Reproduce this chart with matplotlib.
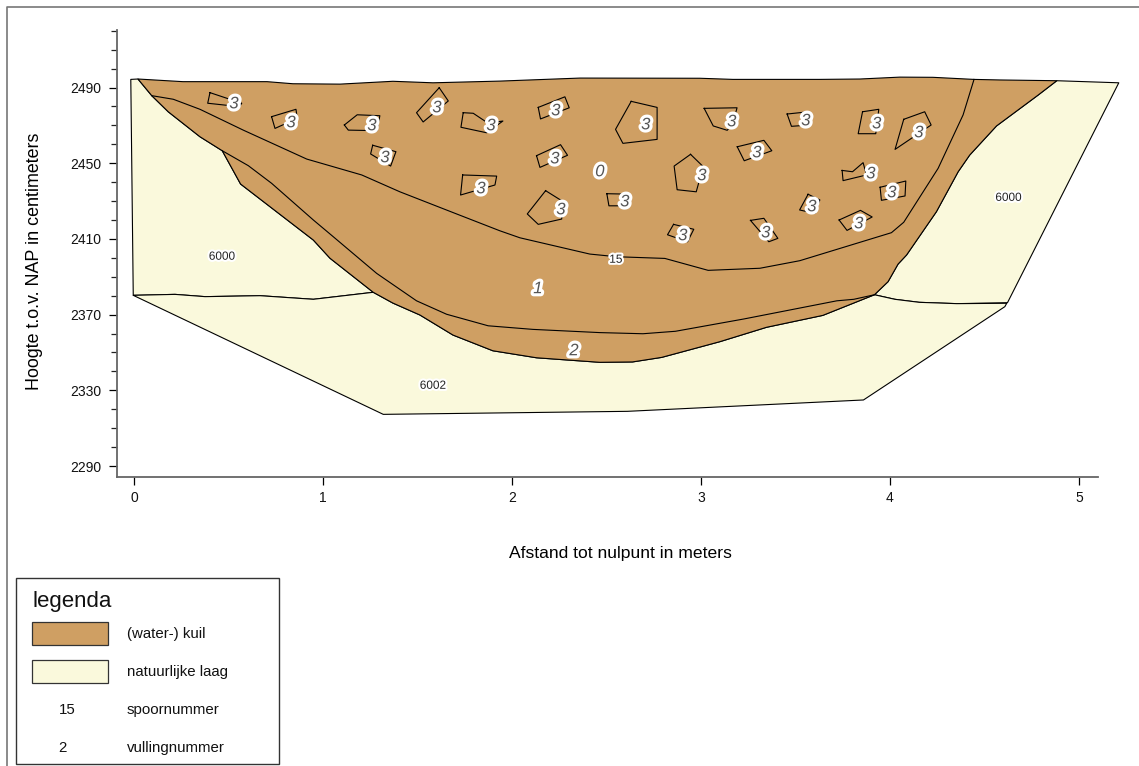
import matplotlib
matplotlib.use('Agg')
import matplotlib.pyplot as plt
import matplotlib.patheffects as pe
from matplotlib.patches import Rectangle

plt.rcParams['font.family'] = ['Liberation Sans', 'DejaVu Sans']

BROWN = '#CF9F63'
CREAM = '#FAF9DC'

# maaiveld, links naar rechts
ground = [(0.021, 2494.5), (0.259, 2493.1), (0.704, 2493.1), (0.841, 2492.0), (1.090, 2491.8),
          (1.370, 2493.3), (1.582, 2492.5), (1.936, 2493.4), (2.360, 2495.0), (2.994, 2494.9),
          (3.169, 2494.3), (3.629, 2494.3), (3.841, 2494.5), (4.052, 2495.5), (4.227, 2495.4),
          (4.444, 2494.3), (4.581, 2494.0), (4.883, 2493.6)]

# kuilwand links tot het punt waar vulling 2 begint
pit_left = [(0.021, 2494.5), (0.094, 2485.7), (0.181, 2477.2), (0.349, 2464.0), (0.467, 2456.6)]

# onderkant kuil
pit_bottom_a = [(0.467, 2456.6), (0.564, 2439.0), (0.949, 2409.4), (1.037, 2399.8), (1.266, 2381.8)]
pit_bottom_b = [(1.266, 2381.8), (1.370, 2376.1), (1.513, 2369.8), (1.688, 2359.2), (1.899, 2350.9),
                (2.130, 2347.2), (2.465, 2344.8), (2.638, 2345.0), (2.792, 2347.4), (3.100, 2355.7),
                (3.347, 2363.3), (3.645, 2369.6), (3.918, 2380.5)]

pit_right = [(3.918, 2380.5), (3.990, 2387.4), (4.043, 2396.7), (4.088, 2401.5), (4.246, 2424.4),
             (4.361, 2445.5), (4.422, 2454.3), (4.564, 2469.7), (4.784, 2486.0), (4.883, 2493.6)]

# grens spoor 15
line_15 = [(0.094, 2485.7), (0.208, 2483.8), (0.349, 2478.5), (0.578, 2467.5), (0.914, 2452.2),
           (1.205, 2443.8), (1.407, 2434.9), (1.707, 2423.2), (1.936, 2414.3), (2.042, 2410.6),
           (2.412, 2402.0), (2.553, 2400.6), (2.809, 2399.7), (3.038, 2393.4), (3.312, 2394.5),
           (3.523, 2398.5), (4.008, 2413.3), (4.073, 2418.8), (4.255, 2447.3), (4.387, 2475.5),
           (4.445, 2494.3)]

# grens vulling 1 / vulling 2
line_fill = [(0.467, 2456.6), (0.605, 2448.7), (0.728, 2439.4), (0.949, 2420.0), (1.054, 2411.2),
             (1.284, 2391.8), (1.495, 2377.3), (1.654, 2370.2), (1.874, 2364.1), (2.111, 2362.2),
             (2.465, 2360.5), (2.693, 2359.9), (2.865, 2361.2), (3.227, 2367.7), (3.719, 2377.3),
             (3.809, 2378.1), (3.918, 2380.5)]

# natuurlijke lagen
layer_left = [(-0.004, 2380.2), (0.217, 2380.7), (0.376, 2379.5), (0.667, 2380.0), (0.949, 2378.1),
              (1.266, 2381.8)]
layer_right = [(3.918, 2380.5), (4.026, 2378.1), (4.155, 2376.5), (4.354, 2375.8), (4.618, 2376.0)]
layer_under = [(4.608, 2374.2), (3.860, 2324.9), (2.611, 2318.9), (1.319, 2317.3)]
left_top = [(-0.017, 2494.3)]
right_outer = [(5.211, 2492.5), (4.622, 2376.3)]

# vulling 3 vlekken
blobs = [
    [(0.402, 2487.3), (0.570, 2481.7), (0.557, 2479.9), (0.390, 2481.7)],
    [(0.728, 2474.6), (0.857, 2478.5), (0.864, 2473.7), (0.746, 2468.4)],
    [(1.113, 2470.2), (1.181, 2475.6), (1.301, 2475.1), (1.285, 2467.2), (1.134, 2467.5)],
    [(1.615, 2489.9), (1.663, 2482.9), (1.530, 2471.8), (1.495, 2476.7)],
    [(1.742, 2476.7), (1.795, 2476.4), (1.873, 2471.2), (1.952, 2472.3), (1.866, 2466.1), (1.730, 2469.0)],
    [(1.263, 2459.5), (1.386, 2456.1), (1.358, 2448.5), (1.252, 2454.9)],
    [(1.739, 2443.8), (1.919, 2443.2), (1.910, 2438.5), (1.728, 2433.2)],
    [(2.139, 2479.5), (2.280, 2485.1), (2.303, 2479.3), (2.151, 2473.4)],
    [(2.631, 2482.7), (2.768, 2479.5), (2.768, 2462.6), (2.587, 2460.5), (2.548, 2467.9)],
    [(3.017, 2479.0), (3.191, 2479.3), (3.169, 2471.1), (3.139, 2467.4), (3.065, 2469.7)],
    [(3.456, 2476.0), (3.569, 2477.2), (3.576, 2470.2), (3.479, 2469.5)],
    [(3.192, 2458.7), (3.333, 2462.1), (3.375, 2456.6), (3.229, 2451.3)],
    [(2.130, 2454.0), (2.257, 2459.8), (2.294, 2454.2), (2.148, 2447.8)],
    [(2.945, 2454.7), (3.012, 2448.2), (2.975, 2434.9), (2.874, 2436.0), (2.858, 2448.5)],
    [(2.502, 2433.9), (2.597, 2433.7), (2.597, 2427.5), (2.513, 2427.5)],
    [(2.178, 2435.5), (2.271, 2429.7), (2.263, 2420.5), (2.139, 2417.7), (2.081, 2423.2)],
    [(2.855, 2417.7), (2.962, 2415.1), (2.929, 2408.5), (2.823, 2412.2)],
    [(3.262, 2419.8), (3.333, 2420.9), (3.407, 2410.3), (3.359, 2408.5)],
    [(3.567, 2433.6), (3.629, 2430.6), (3.603, 2423.5), (3.522, 2425.3)],
    [(3.855, 2477.2), (3.941, 2478.5), (3.925, 2465.6), (3.832, 2465.6)],
    [(4.073, 2473.2), (4.184, 2477.2), (4.218, 2470.2), (4.027, 2457.3)],
    [(3.747, 2446.2), (3.802, 2445.5), (3.858, 2450.3), (3.876, 2443.8), (3.752, 2440.8)],
    [(3.948, 2437.3), (4.084, 2440.6), (4.080, 2432.7), (3.955, 2430.4)],
    [(3.731, 2420.0), (3.844, 2425.1), (3.906, 2421.6), (3.773, 2414.5)],
]

# labels
fill_labels = [(0.529, 2481.4, '3'), (0.831, 2471.4, '3'), (1.259, 2469.8, '3'), (1.603, 2479.3, '3'),
               (1.889, 2469.8, '3'), (1.328, 2452.9, '3'), (1.836, 2436.5, '3'), (2.232, 2477.7, '3'),
               (2.227, 2452.3, '3'), (2.708, 2470.3, '3'), (3.163, 2471.9, '3'), (3.555, 2472.4, '3'),
               (3.296, 2455.5, '3'), (3.005, 2443.4, '3'), (2.597, 2429.6, '3'), (2.259, 2425.4, '3'),
               (2.904, 2411.7, '3'), (3.343, 2413.2, '3'), (3.587, 2427.0, '3'), (3.899, 2444.4, '3'),
               (3.930, 2470.8, '3'), (4.153, 2466.1, '3'), (4.010, 2434.4, '3'), (3.835, 2418.0, '3'),
               (2.465, 2445.5, '0'), (2.137, 2383.7, '1'), (2.328, 2350.9, '2')]
trace_labels = [(2.550, 2399.0, '15'), (0.466, 2400.6, '6000'), (4.628, 2431.7, '6000'), (1.582, 2332.4, '6002')]

x_ticks = [0, 1, 2, 3, 4, 5]
y_ticks = [2290, 2330, 2370, 2410, 2450, 2490]
y_minor = list(range(2290, 2521, 10))


def fill_poly(ax, pts, color):
    xs = [p[0] for p in pts]
    ys = [p[1] for p in pts]
    ax.fill(xs, ys, facecolor=color, edgecolor='black', linewidth=0.8, joinstyle='round', clip_on=False)


def draw_line(ax, pts):
    ax.plot([p[0] for p in pts], [p[1] for p in pts], color='black', linewidth=0.8, clip_on=False)


fig = plt.figure(figsize=(11.39, 7.66), dpi=100)
ax = fig.add_axes([117 / 1139, 1 - 477 / 766, 981 / 1139, 447 / 766])
ax.set_xlim(-0.090, 5.101)
ax.set_ylim(2284.2, 2520.4)

fill_poly(ax, left_top + pit_left + pit_bottom_a[1:] + layer_left[::-1][1:], CREAM)
fill_poly(ax, ground[-1:] + right_outer + layer_right[::-1][1:] + pit_right, CREAM)
fill_poly(ax, layer_left + pit_bottom_b[1:] + layer_right[1:] + layer_under, CREAM)
fill_poly(ax, ground + pit_right[::-1][1:] + pit_bottom_b[::-1][1:] + pit_bottom_a[::-1][1:] + pit_left[::-1][1:], BROWN)
draw_line(ax, line_15)
draw_line(ax, line_fill)

for blob in blobs:
    draw_line(ax, blob + blob[:1])

for x, y, s in fill_labels:
    ax.text(x, y, s, fontsize=12, style='italic', color='#555555', ha='center', va='center',
            path_effects=[pe.withStroke(linewidth=4.5, foreground='white')])
for x, y, s in trace_labels:
    ax.text(x, y, s, fontsize=8.5, color='#222222', ha='center', va='center',
            path_effects=[pe.withStroke(linewidth=3, foreground='white')])

ax.spines['top'].set_visible(False)
ax.spines['right'].set_visible(False)
for side in ['left', 'bottom']:
    ax.spines[side].set_color('#666666')
    ax.spines[side].set_linewidth(1.3)
ax.set_xticks(x_ticks)
ax.set_yticks(y_ticks)
ax.set_yticks(y_minor, minor=True)
ax.tick_params(axis='both', which='major', length=6, width=0.9, labelsize=10, color='black', labelcolor='#111111')
ax.tick_params(axis='x', which='major', pad=4)
ax.tick_params(axis='y', which='major', pad=5)
ax.tick_params(axis='y', which='minor', length=4, width=0.9, color='#222222')
ax.set_xlabel('Afstand tot nulpunt in meters', fontsize=12.6)
ax.xaxis.set_label_coords(0.5127, -0.154)
ax.set_ylabel('Hoogte t.o.v. NAP in centimeters', fontsize=12.9)
ax.yaxis.set_label_coords(-0.0755, 0.483)

# kader en legenda
over = fig.add_axes([0, 0, 1, 1], facecolor='none')
over.set_xlim(0, 1139)
over.set_ylim(766, 0)
over.axis('off')
over.plot([7, 7, 1139], [766, 7, 7], color='#777777', linewidth=1.2)
over.add_patch(Rectangle((15.5, 578), 263.5, 186, facecolor='white', edgecolor='#333333', linewidth=1))
over.add_patch(Rectangle((32, 621.5), 76, 23, facecolor=BROWN, edgecolor='#333333', linewidth=0.9))
over.add_patch(Rectangle((32, 659.5), 76, 23, facecolor=CREAM, edgecolor='#333333', linewidth=0.9))
over.text(32, 602, 'legenda', fontsize=16, va='center', ha='left', color='#111111')
over.text(127, 634, '(water-) kuil', fontsize=10.8, va='center', ha='left', color='#111111')
over.text(127, 672, 'natuurlijke laag', fontsize=10.8, va='center', ha='left', color='#111111')
over.text(67, 710, '15', fontsize=10.8, va='center', ha='center', color='#111111')
over.text(127, 710, 'spoornummer', fontsize=10.8, va='center', ha='left', color='#111111')
over.text(62, 748, '2', fontsize=10.8, va='center', ha='center', color='#111111')
over.text(127, 748, 'vullingnummer', fontsize=10.8, va='center', ha='left', color='#111111')

fig.savefig('out.png', dpi=100)
